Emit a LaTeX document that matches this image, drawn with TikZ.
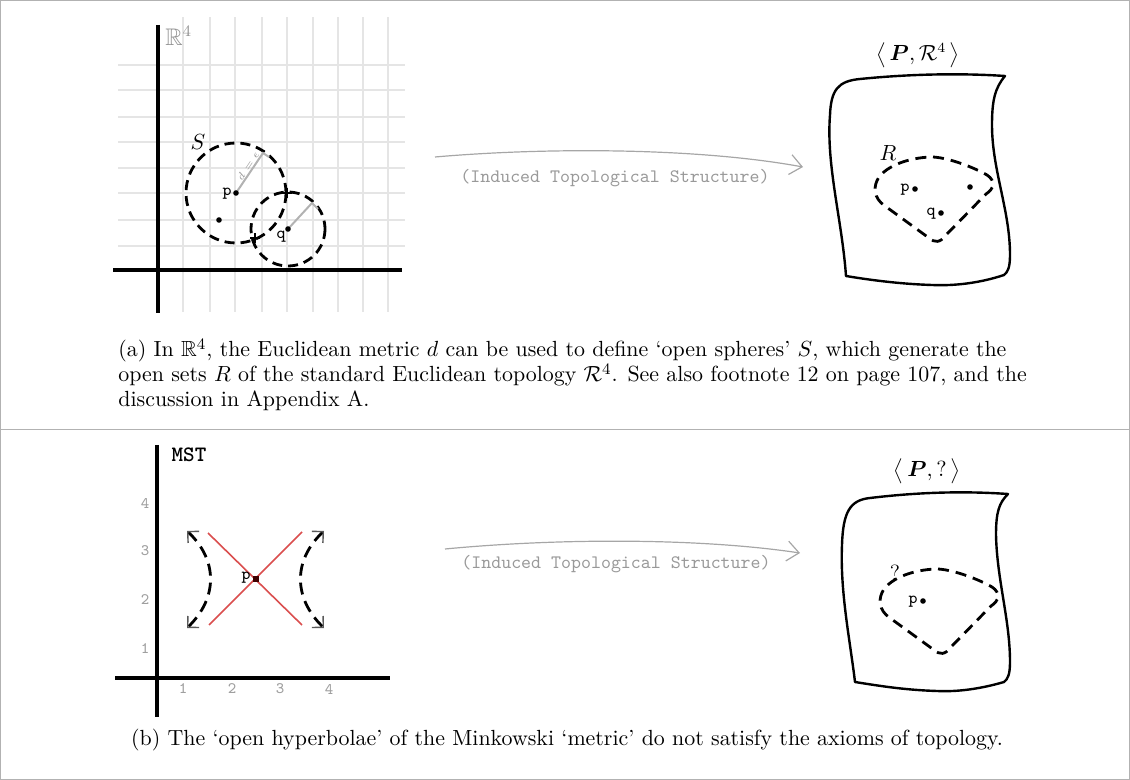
\documentclass[tikz,border=0pt]{standalone}
\usepackage{amsmath,amssymb}
\usetikzlibrary{arrows.meta}
\definecolor{hyred}{RGB}{218,78,78}
\begin{document}
\begin{tikzpicture}[x=0.5pt,y=-0.5pt,
  gridline/.style={gray!20, line width=0.9pt},
  axis/.style={black, line width=2pt},
  dashcirc/.style={black, line width=1.4pt, dash pattern=on 5pt off 3pt},
  surf/.style={black, line width=1.2pt, line join=round},
  region/.style={black, line width=1.4pt, dash pattern=on 5.5pt off 3.5pt},
  dotpt/.style={circle, fill=black, inner sep=0pt, minimum size=2.8pt},
  lbl/.style={font=\ttfamily\fontsize{8.5}{9}\selectfont, inner sep=0pt},
  ticklbl/.style={font=\ttfamily\fontsize{8}{9}\selectfont, text=gray!75, inner sep=0pt},
  induce/.style={gray!70, line width=0.6pt, -{Straight Barb[length=6pt,width=10pt]}},
  indtext/.style={font=\ttfamily\fontsize{9.5}{11}\selectfont, text=gray!80, inner sep=0pt},
  captext/.style={font=\fontsize{10.95}{13}\selectfont, anchor=base west, inner sep=0pt},
  radline/.style={gray!60, line width=1pt},
  redline/.style={hyred, line width=0.8pt},
  hyp/.style={black, line width=1.4pt, dash pattern=on 6pt off 3.5pt, {Straight Barb[length=4pt,width=8pt,line width=0.7pt,color=gray!70!black]}-{Straight Barb[length=4pt,width=8pt,line width=0.7pt,color=gray!70!black]}},
  crossmark/.style={black, line width=1pt}
]
\useasboundingbox (0,0) rectangle (1130,780);
% frame
\draw[gray!60, line width=0.5pt] (0.5,0.5) rectangle (1129.5,779.5);
\draw[gray!60, line width=0.5pt] (0,430) -- (1130,430);

% ---------- panel (a) left: R^4 ----------
\foreach \x in {183,210,235,262,287,313,338,363,388} \draw[gridline] (\x,17) -- (\x,312);
\foreach \y in {65,90,117,142,168,193,220,246} \draw[gridline] (118,\y) -- (405,\y);
\draw[axis] (158,25) -- (158,313);
\draw[axis] (113,270) -- (402,270);
\node[text=gray!85, anchor=west, inner sep=0pt] (R4) at (165,36) {\fontsize{12}{13}\selectfont$\mathbb{R}^{4}$};

\coordinate (p) at (236,193);
\coordinate (q) at (288,229);
\draw[dashcirc] (p) circle[radius=50];
\draw[dashcirc] (q) circle[radius=37];
\coordinate (pr) at (263,153);
\coordinate (qr) at (312,203);
\draw[radline] (p) -- (pr) -- ++(6,4);
\draw[radline] (q) -- (qr) -- ++(6,6);
\node[font=\fontsize{5}{6}\selectfont, text=gray!80, rotate=56, inner sep=0pt] (deps) at (248,166) {$d=\epsilon$};
\node[dotpt] (pdot) at (p) {};
\node[dotpt] (qdot) at (q) {};
\node[dotpt] (odot) at (219,220) {};
\node[lbl, anchor=east] (plbl) at (232,194) {p};
\node[lbl] (qlbl) at (281,237) {q};
\node[inner sep=0pt, font=\fontsize{11}{12}\selectfont] (Slbl) at (198,142) {$S$};
\coordinate (x1) at (287,193);
\coordinate (x2) at (255,238);
\draw[crossmark] (x1) ++(-5,0) -- ++(10,0) (x1) ++(0,-5) -- ++(0,10);
\draw[crossmark] (x2) ++(-5,0) -- ++(10,0) (x2) ++(0,-5) -- ++(0,10);

% arrow (a)
\coordinate (a1s) at (435,157);
\coordinate (a1e) at (803,167);
\draw[induce] (a1s) .. controls (550,147) and (700,148) .. (a1e);
\node[indtext] (ind1) at (615,178) {(Induced Topological Structure)};

% surface (a)
\node[inner sep=0pt, font=\fontsize{10.5}{12}\selectfont] (PR4) at (918,55) {$\big\langle\, \boldsymbol{P}, \mathcal{R}^4 \,\big\rangle$};
\draw[surf] (846,276) .. controls (842,220) and (826,165) .. (830,115)
  .. controls (831,90) and (838,81) .. (860,79)
  .. controls (910,74) and (960,73) .. (1005,76)
  .. controls (995,88) and (992,100) .. (992,125)
  .. controls (992,170) and (1010,210) .. (1010,255)
  .. controls (1010,267) and (1008,272) .. (1004,275)
  .. controls (980,283) and (955,286) .. (932,285)
  .. controls (900,284) and (870,280) .. (846,276) -- cycle;
\draw[region] (933,157) .. controls (950,158) and (975,168) .. (987,175)
  .. controls (996,181) and (994,189) .. (986,194)
  -- (946,235) .. controls (940,243) and (935,243) .. (929,238)
  -- (885,206) .. controls (873,198) and (873,186) .. (879,177)
  .. controls (890,163) and (915,157) .. (933,157) -- cycle;
\node[inner sep=0pt, font=\fontsize{11}{12}\selectfont] (Rlbl) at (888,153) {$R$};
\node[dotpt] (rp) at (915,189) {};
\node[lbl, anchor=east] (rplbl) at (910,190) {p};
\node[dotpt] (ro) at (970,187) {};
\node[dotpt] (rq) at (941,213) {};
\node[lbl, anchor=east] (rqlbl) at (936,214) {q};

% caption (a)
\node[captext] (capa1) at (118,357) {(a) In $\mathbb{R}^4$, the Euclidean metric $d$ can be used to define `open spheres' $S$, which generate the};
\node[captext] (capa2) at (118,382) {open sets $R$ of the standard Euclidean topology $\mathcal{R}^4$. See also footnote 12 on page 107, and the};
\node[captext] (capa3) at (118,407) {discussion in Appendix A.};

% ---------- panel (b) left: MST ----------
\draw[axis] (157,445) -- (157,717);
\draw[axis] (115,678) -- (390,678);
\node[inner sep=0pt, font=\ttfamily\bfseries\fontsize{11}{12}\selectfont] (MST) at (189,455) {MST};
\node[ticklbl] (y4) at (145,503) {4};
\node[ticklbl] (y3) at (145,551) {3};
\node[ticklbl] (y2) at (145,600) {2};
\node[ticklbl] (y1) at (145,649) {1};
\node[ticklbl] (x1l) at (183,689) {1};
\node[ticklbl] (x2l) at (232,689) {2};
\node[ticklbl] (x3l) at (280,689) {3};
\node[ticklbl] (x4l) at (329,689) {4};
\coordinate (r1a) at (208,533);
\coordinate (r1b) at (302,625);
\coordinate (r2a) at (209,625);
\coordinate (r2b) at (302,532);
\draw[redline] (r1a) -- (r1b);
\draw[redline] (r2a) -- (r2b);
\coordinate (hl1) at (187,531);
\coordinate (hl2) at (187,628);
\coordinate (hr1) at (324,531);
\coordinate (hr2) at (324,628);
\draw[hyp] (hl1) .. controls (218,560) and (218,598) .. (hl2);
\draw[hyp] (hr1) .. controls (293,560) and (293,598) .. (hr2);
\node[fill=black!75!red, inner sep=0pt, minimum size=3pt] (mp) at (256,579) {};
\node[lbl, anchor=east] (mplbl) at (251,578) {p};

% arrow (b)
\coordinate (a2s) at (445,549);
\coordinate (a2e) at (800,553);
\draw[induce] (a2s) .. controls (560,538) and (700,538) .. (a2e);
\node[indtext] (ind2) at (616,564) {(Induced Topological Structure)};

% surface (b)
\node[inner sep=0pt, font=\fontsize{10.5}{12}\selectfont] (PQ) at (927,471) {$\big\langle\, \boldsymbol{P}, ? \,\big\rangle$};
\draw[surf] (855,682) .. controls (850,640) and (840,592) .. (842,545)
  .. controls (843,512) and (850,500) .. (870,498)
  .. controls (920,492) and (965,491) .. (1008,494)
  .. controls (999,503) and (996,512) .. (996,535)
  .. controls (997,580) and (1010,620) .. (1010,662)
  .. controls (1010,674) and (1008,679) .. (1004,682)
  .. controls (980,689) and (957,692) .. (937,691)
  .. controls (905,690) and (880,686) .. (855,682) -- cycle;
\begin{scope}[shift={(5,412)}]
\draw[region] (933,157) .. controls (950,158) and (975,168) .. (987,175)
  .. controls (996,181) and (994,189) .. (986,194)
  -- (946,235) .. controls (940,243) and (935,243) .. (929,238)
  -- (885,206) .. controls (873,198) and (873,186) .. (879,177)
  .. controls (890,163) and (915,157) .. (933,157) -- cycle;
\end{scope}
\node[inner sep=0pt, font=\fontsize{11}{12}\selectfont] (Qlbl) at (895,573) {?};
\node[dotpt] (bp) at (923,601) {};
\node[lbl, anchor=east] (bplbl) at (918,602) {p};

% caption (b)
\node[font=\fontsize{10.95}{13}\selectfont, anchor=base, inner sep=0pt] (capb) at (567,745) {(b) The `open hyperbolae' of the Minkowski `metric' do not satisfy the axioms of topology.};
\end{tikzpicture}
\end{document}
